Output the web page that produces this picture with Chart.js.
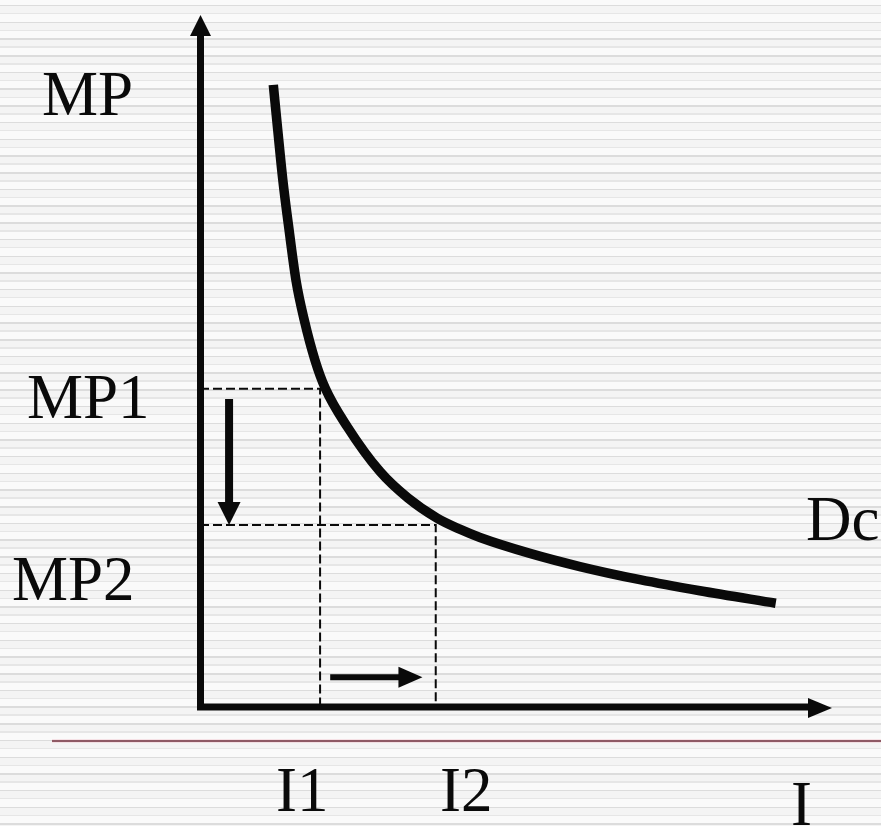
<!DOCTYPE html>
<html>
<head>
<meta charset="utf-8">
<title>Dc curve</title>
<script src="https://cdn.jsdelivr.net/npm/chart.js@4.4.0/dist/chart.umd.min.js"></script>
<style>
  html, body { margin: 0; padding: 0; }
  body {
    width: 881px;
    height: 826px;
    overflow: hidden;
    background: repeating-linear-gradient(to bottom,
      #fafafa 0px, #fafafa 5px,
      #dcdcdc 5px, #dcdcdc 6.5px,
      #f4f4f4 6.5px, #f4f4f4 13px,
      #e6e6e6 13px, #e6e6e6 14.5px,
      #fafafa 14.5px, #fafafa 16.7px);
  }
  #chartBox { position: absolute; left: 0; top: 0; width: 881px; height: 826px; }
</style>
</head>
<body>
<div id="chartBox"><canvas id="dcChart" width="881" height="826"></canvas></div>
<script>
/************************************************************
 *                      CHART DATA
 ************************************************************/
// demand curve Dc (I on x, MP on y, 0..10 both)
const curveI  = [1.16, 1.23, 1.31, 1.41, 1.52, 1.65, 1.82, 1.98, 2.33, 2.85, 3.29, 3.75, 4.11, 4.43, 5.22, 6.01, 6.96, 7.91, 9.11];
const curveMP = [8.99, 8.34, 7.62, 6.89, 6.16, 5.59, 5.01, 4.61, 4.05, 3.40, 3.02, 2.73, 2.57, 2.45, 2.22, 2.03, 1.84, 1.68, 1.50];

// the two price levels and the investment they give
const mpLevels = [4.60, 2.63];
const iLevels  = [1.90, 3.73];
const mpLabels = ["MP1", "MP2"];
const iLabels  = ["I1", "I2"];

// axis names and curve name
const axisNames = ["MP", "I"];
const curveName = "Dc";

// shift arrows: price falls (at I = 0.46), investment rises (at MP = 0.43)
const priceFall   = [4.45, 2.63];
const investRise  = [2.06, 3.52];
const priceFallAt = 0.46;
const investRiseAt = 0.43;

/************************************************************
 *                      SETTINGS
 ************************************************************/
const slideFont = '63px "Liberation Serif", "Times New Roman", serif';
const ink = "#0a0a0a";

function toPoints(xs, ys) {
  return xs.map((x, i) => ({ x: x, y: ys[i] }));
}

function guidePoints(k) {
  return [
    { x: 0, y: mpLevels[k] },
    { x: iLevels[k], y: mpLevels[k] },
    { x: iLevels[k], y: 0 },
  ];
}

function guideStyle() {
  return {
    showLine: true,
    borderColor: ink,
    borderWidth: 2,
    borderDash: [9, 4],
    pointRadius: 0,
    tension: 0,
    clip: false,
  };
}

/************************************************************
 *                      DRAWING HELPERS
 ************************************************************/
function arrowHead(ctx, tipX, tipY, dir, len, half) {
  ctx.beginPath();
  if (dir === "up") {
    ctx.moveTo(tipX, tipY);
    ctx.lineTo(tipX - half, tipY + len);
    ctx.lineTo(tipX + half, tipY + len);
  } else if (dir === "down") {
    ctx.moveTo(tipX, tipY);
    ctx.lineTo(tipX - half, tipY - len);
    ctx.lineTo(tipX + half, tipY - len);
  } else {
    ctx.moveTo(tipX, tipY);
    ctx.lineTo(tipX - len, tipY - half);
    ctx.lineTo(tipX - len, tipY + half);
  }
  ctx.closePath();
  ctx.fill();
}

const slideDecor = {
  id: "slideDecor",
  beforeDatasetsDraw(chart) {
    const ctx = chart.ctx;
    const a = chart.chartArea;
    ctx.save();
    ctx.fillStyle = ink;
    ctx.strokeStyle = ink;
    ctx.lineWidth = 7;
    ctx.lineCap = "butt";
    // axes
    ctx.beginPath();
    ctx.moveTo(a.left + 0.5, a.bottom + 3.5);
    ctx.lineTo(a.left + 0.5, a.top + 18);
    ctx.moveTo(a.left - 3, a.bottom);
    ctx.lineTo(a.right - 22, a.bottom);
    ctx.stroke();
    arrowHead(ctx, a.left + 0.5, a.top, "up", 21, 10.5);
    arrowHead(ctx, a.right, a.bottom + 1, "right", 24, 10);
    ctx.restore();
  },
  afterDatasetsDraw(chart) {
    const ctx = chart.ctx;
    const xs = chart.scales.x;
    const ys = chart.scales.y;
    ctx.save();
    ctx.fillStyle = ink;
    ctx.strokeStyle = ink;

    // price falls
    const px = xs.getPixelForValue(priceFallAt);
    const pTop = ys.getPixelForValue(priceFall[0]);
    const pTip = ys.getPixelForValue(priceFall[1]);
    ctx.lineWidth = 8;
    ctx.beginPath();
    ctx.moveTo(px, pTop);
    ctx.lineTo(px, pTip - 20);
    ctx.stroke();
    arrowHead(ctx, px, pTip, "down", 23, 11.5);

    // investment rises
    const iy = ys.getPixelForValue(investRiseAt);
    const iFrom = xs.getPixelForValue(investRise[0]);
    const iTip = xs.getPixelForValue(investRise[1]);
    ctx.lineWidth = 6;
    ctx.beginPath();
    ctx.moveTo(iFrom, iy);
    ctx.lineTo(iTip - 20, iy);
    ctx.stroke();
    arrowHead(ctx, iTip, iy, "right", 24, 10.5);

    // slide rule line
    ctx.lineWidth = 3;
    ctx.strokeStyle = "#f2c9d1";
    ctx.beginPath();
    ctx.moveTo(52, 741);
    ctx.lineTo(881, 741);
    ctx.stroke();
    ctx.lineWidth = 1.6;
    ctx.strokeStyle = "#6e3440";
    ctx.beginPath();
    ctx.moveTo(52, 741);
    ctx.lineTo(881, 741);
    ctx.stroke();

    // texts
    ctx.font = slideFont;
    ctx.textBaseline = "alphabetic";
    ctx.textAlign = "left";
    ctx.fillText(axisNames[0], 42, 115);
    ctx.fillText(mpLabels[0], 27, 418);
    ctx.fillText(mpLabels[1], 12, 600);
    ctx.fillText(curveName, 806, 540);
    ctx.fillText(iLabels[0], 276, 811);
    ctx.fillText(iLabels[1], 440, 811);
    ctx.fillText(axisNames[1], 791, 825);
    ctx.restore();
  },
};

/************************************************************
 *                      CHART CONFIG
 ************************************************************/
const dcConfig = {
  type: "scatter",
  data: {
    datasets: [
      {
        label: curveName,
        data: toPoints(curveI, curveMP),
        showLine: true,
        borderColor: ink,
        borderWidth: 9.5,
        borderCapStyle: "butt",
        borderJoinStyle: "round",
        cubicInterpolationMode: "monotone",
        pointRadius: 0,
        clip: false,
      },
      { label: mpLabels[0], data: guidePoints(0), ...guideStyle() },
      { label: mpLabels[1], data: guidePoints(1), ...guideStyle() },
    ],
  },
  options: {
    responsive: false,
    animation: false,
    events: [],
    layout: { padding: { left: 200, right: 49, top: 15, bottom: 119 } },
    scales: {
      x: { type: "linear", min: 0, max: 10, display: false },
      y: { type: "linear", min: 0, max: 10, display: false },
    },
    plugins: {
      legend: { display: false },
      tooltip: { enabled: false },
      title: { display: false },
    },
  },
  plugins: [slideDecor],
};

new Chart(document.getElementById("dcChart"), dcConfig);
</script>
</body>
</html>
